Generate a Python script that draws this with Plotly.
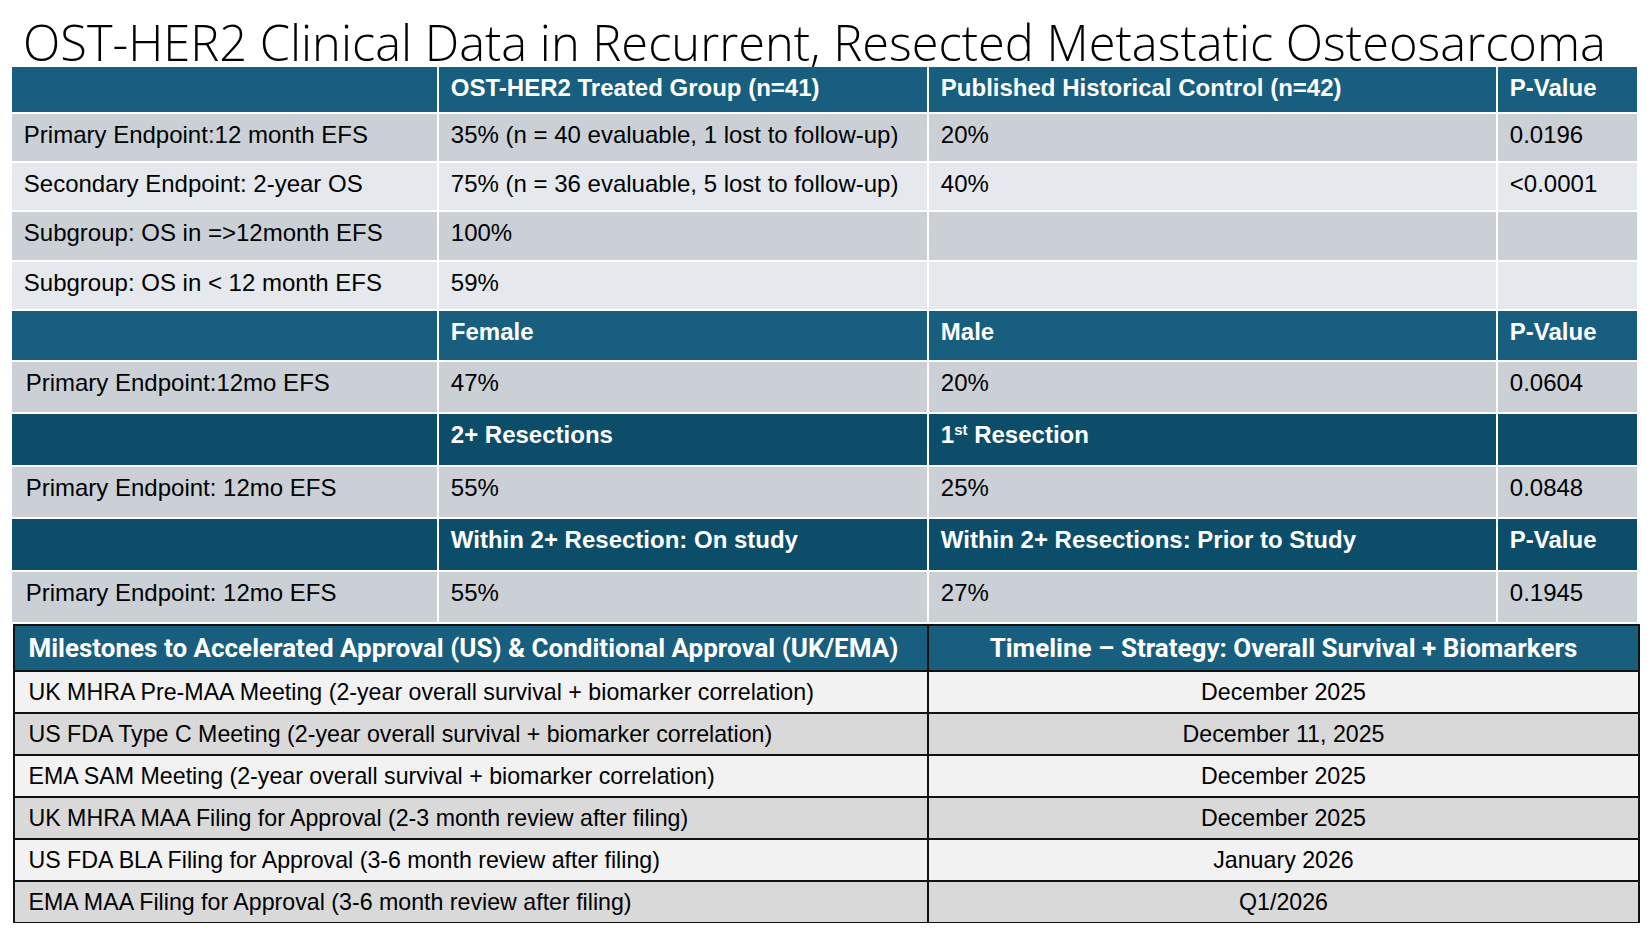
"""OST-HER2 clinical data summary table, rebuilt with plotly tables."""

import plotly.graph_objects as go

# the page body keeps its default 8px margin, so the figure is laid out
# in page pixels minus that offset
OFF = 8
W, H = 1650 - 2 * OFF, 931 - 2 * OFF

TITLE = "OST-HER2 Clinical Data in Recurrent, Resected Metastatic Osteosarcoma"

# top table --------------------------------------------------------------
top_header = [
    "",
    "<b>OST-HER2 Treated Group (n=41)</b>",
    "<b>Published Historical Control (n=42)</b>",
    "<b>P-Value</b>",
]
# row kind: "d" = data row (dark grey), "l" = data row (light grey),
# "h" = sub header, "k" = dark sub header
row_kind = ["d", "l", "d", "l", "h", "d", "k", "d", "k", "d"]
endpoints = [
    "Primary Endpoint:12 month EFS",
    "Secondary Endpoint: 2-year OS",
    "Subgroup: OS in =&gt;12month EFS",
    "Subgroup: OS in &lt; 12 month EFS",
    "",
    "Primary Endpoint:12mo EFS",
    "",
    "Primary Endpoint: 12mo EFS",
    "",
    "Primary Endpoint: 12mo EFS",
]
treated = [
    "35% (n = 40 evaluable, 1 lost to follow-up)",
    "75% (n = 36 evaluable, 5 lost to follow-up)",
    "100%",
    "59%",
    "<b>Female</b>",
    "47%",
    "<b>2+ Resections</b>",
    "55%",
    "<b>Within 2+ Resection: On study</b>",
    "55%",
]
control = [
    "20%",
    "40%",
    "",
    "",
    "<b>Male</b>",
    "20%",
    '<b>1<span style="font-size:15px;baseline-shift:8px">st</span> Resection</b>',
    "25%",
    "<b>Within 2+ Resections: Prior to Study</b>",
    "27%",
]
p_values = [
    "0.0196",
    "&lt;0.0001",
    "",
    "",
    "<b>P-Value</b>",
    "0.0604",
    "",
    "0.0848",
    "<b>P-Value</b>",
    "0.1945",
]

# bottom table -----------------------------------------------------------
bottom_header = [
    "<b>Milestones to Accelerated Approval (US) &amp; Conditional Approval (UK/EMA)</b>",
    "<b>Timeline – Strategy: Overall Survival + Biomarkers</b>",
]
milestones = [
    "UK MHRA Pre-MAA Meeting (2-year overall survival + biomarker correlation)",
    "US FDA Type C Meeting (2-year overall survival + biomarker correlation)",
    "EMA SAM Meeting (2-year overall survival + biomarker correlation)",
    "UK MHRA MAA Filing for Approval (2-3 month review after filing)",
    "US FDA BLA Filing for Approval (3-6 month review after filing)",
    "EMA MAA Filing for Approval (3-6 month review after filing)",
]
timelines = [
    "December 2025",
    "December 11, 2025",
    "December 2025",
    "December 2025",
    "January 2026",
    "Q1/2026",
]

HEAD_BLUE = "#185e7e"
HEAD_DARK = "#0c4e6a"
KIND_FILL = {"d": "#cbd0d7", "l": "#e5e8ec", "h": HEAD_BLUE, "k": HEAD_DARK}
KIND_FONT = {"d": "black", "l": "black", "h": "white", "k": "white"}
bottom_fill = ["#f2f2f2" if i % 2 == 0 else "#d9d9d9" for i in range(len(milestones))]

ARIAL = "Liberation Sans, Arial, sans-serif"
HEAD_FONT = "Roboto, Liberation Sans, sans-serif"
THIN, NBSP = "\u2009", "\u00a0"
COL_W = [427, 490, 569, 141]


def px_x(v):
    return (v - OFF) / W


def px_y(v):
    return 1 - (v - OFF) / H


def mid(texts, size, pad=""):
    # plotly tables top-align cell text; an empty first line set in the
    # (small) base font pushes the real line down to the middle of the cell
    return [f'<br><span style="font-size:{size}px">{pad}{t}</span>' if t else t for t in texts]


top_cols = [endpoints, treated, control, p_values]
A, B = slice(0, 4), slice(5, 10)   # row 4 is the "Female / Male" sub header

fig = go.Figure()

# first block: main header + the four overall endpoints
fig.add_trace(go.Table(
    domain=dict(x=[px_x(11), px_x(1638)], y=[px_y(312), px_y(66)]),
    columnwidth=COL_W,
    header=dict(
        values=mid(top_header, 24, THIN),
        fill_color=HEAD_BLUE,
        font=dict(family=ARIAL, size=10.5, color="white"),
        align="left",
        height=47,
        line=dict(color="white", width=2),
    ),
    cells=dict(
        values=[mid(col[A], 24, THIN) for col in top_cols],
        fill_color=[[KIND_FILL[k] for k in row_kind[A]]] * 4,
        font=dict(family=ARIAL, size=12.5, color=[[KIND_FONT[k] for k in row_kind[A]]] * 4),
        align="left",
        height=49.2,
        line=dict(color="white", width=2),
    ),
))

# second block: sex and resection subgroups
fig.add_trace(go.Table(
    domain=dict(x=[px_x(11), px_x(1638)], y=[px_y(627), px_y(310)]),
    columnwidth=COL_W,
    header=dict(
        values=mid([col[4] for col in top_cols], 24, THIN),
        fill_color=KIND_FILL[row_kind[4]],
        font=dict(family=ARIAL, size=11.5, color=KIND_FONT[row_kind[4]]),
        align="left",
        height=51,
        line=dict(color="white", width=2),
    ),
    cells=dict(
        values=[mid(col[B], 24, NBSP if i == 0 else THIN) for i, col in enumerate(top_cols)],
        fill_color=[[KIND_FILL[k] for k in row_kind[B]]] * 4,
        font=dict(family=ARIAL, size=13.5, color=[[KIND_FONT[k] for k in row_kind[B]]] * 4),
        align="left",
        height=52.4,
        line=dict(color="white", width=2),
    ),
))

fig.add_trace(go.Table(
    domain=dict(x=[px_x(14), px_x(1639)], y=[0, px_y(625)]),
    columnwidth=[914, 711],
    header=dict(
        values=mid(bottom_header[:1], 26, NBSP) + mid(bottom_header[1:], 26),
        fill_color=HEAD_BLUE,
        font=dict(family=HEAD_FONT, size=10.5, color="white"),
        align=["left", "center"],
        height=46,
        line=dict(color="#111111", width=2),
    ),
    cells=dict(
        values=[mid(milestones, 23.2, NBSP), mid(timelines, 23.2)],
        fill_color=[bottom_fill] * 2,
        font=dict(family=ARIAL, size=10.5, color="black"),
        align=["left", "center"],
        height=42,
        line=dict(color="#111111", width=2),
    ),
))

fig.add_annotation(
    text=TITLE,
    x=px_x(21), y=px_y(42),
    xref="paper", yref="paper",
    xanchor="left", yanchor="middle",
    showarrow=False,
    font=dict(family="Open Sans", size=48.8, color="black", weight=300),
)

fig.update_layout(
    width=W, height=H,
    margin=dict(l=0, r=0, t=0, b=0),
    paper_bgcolor="white",
    plot_bgcolor="white",
)

fig.write_html("out.html")
